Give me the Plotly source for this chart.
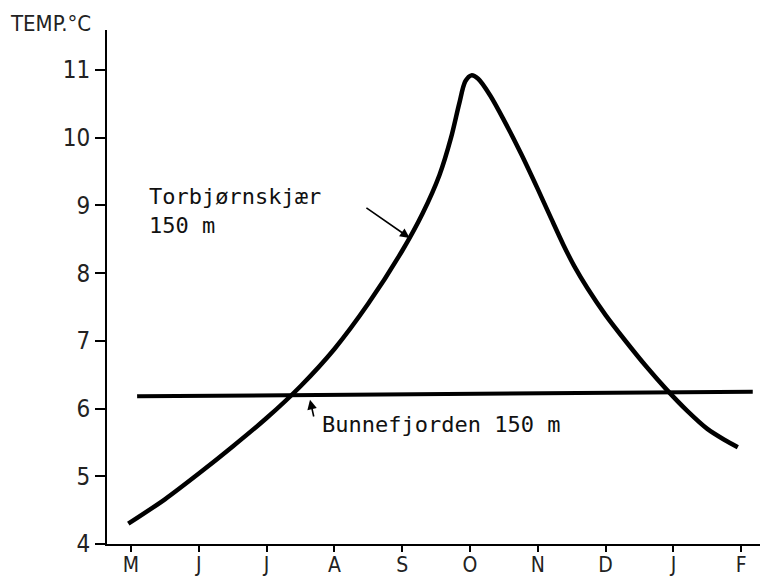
import plotly.graph_objects as go

# Month tick labels (May .. February), positioned at month index 0..9
months = ["M", "J", "J", "A", "S", "O", "N", "D", "J", "F"]
month_idx = list(range(len(months)))

# Torbjørnskjær 150 m (x in month index, y in °C)
torb_x = [-0.04, 0.5, 1.0, 1.5, 2.0, 2.5, 3.0, 3.5, 4.0, 4.3, 4.55, 4.72, 4.84,
          4.93, 5.02, 5.12, 5.3, 5.5, 5.75, 6.0, 6.2, 6.376, 6.55, 6.73, 7.0,
          7.3, 7.6, 7.9, 8.2, 8.5, 8.75, 8.95]
torb_y = [4.30, 4.66, 5.04, 5.44, 5.86, 6.33, 6.88, 7.55, 8.33, 8.88, 9.45, 10.0,
          10.5, 10.83, 10.92, 10.87, 10.62, 10.26, 9.77, 9.24, 8.80, 8.42, 8.08,
          7.78, 7.38, 6.99, 6.62, 6.28, 5.97, 5.70, 5.54, 5.43]

# Bunnefjorden 150 m
bunne_x = [0.09, 9.17]
bunne_y = [6.18, 6.25]

y_ticks = [4, 5, 6, 7, 8, 9, 10, 11]

tick_family = "Liberation Sans Narrow, DejaVu Sans Condensed, sans-serif"
ann_font = dict(family="DejaVu Sans Mono, monospace", size=22, color="#111")

fig = go.Figure()
fig.add_trace(go.Scatter(x=torb_x, y=torb_y, mode="lines",
                         line=dict(color="black", width=4.5, shape="spline", smoothing=0.8),
                         showlegend=False, hoverinfo="skip"))
fig.add_trace(go.Scatter(x=bunne_x, y=bunne_y, mode="lines",
                         line=dict(color="black", width=4),
                         showlegend=False, hoverinfo="skip"))

fig.add_annotation(x=0.24, y=9.35, xref="x", yref="y", xanchor="left", yanchor="top",
                   text="Torbjørnskjær<br>150 m", showarrow=False, align="left",
                   font=ann_font)
fig.add_annotation(x=4.11, y=8.52, ax=3.45, ay=8.98, xref="x", yref="y",
                   axref="x", ayref="y", text="", showarrow=True,
                   arrowhead=2, arrowsize=1.2, arrowwidth=1.6, arrowcolor="black")
fig.add_annotation(x=2.79, y=5.76, xref="x", yref="y", xanchor="left", yanchor="middle",
                   text="Bunnefjorden 150 m", showarrow=False, font=ann_font)
fig.add_annotation(x=2.64, y=6.13, ax=2.70, ay=5.86, xref="x", yref="y",
                   axref="x", ayref="y", text="", showarrow=True,
                   arrowhead=2, arrowsize=1.2, arrowwidth=1.6, arrowcolor="black")
fig.add_annotation(x=-0.1498, y=1.04, xref="paper", yref="paper", xanchor="left",
                   yanchor="top", text="TEMP.°C", showarrow=False,
                   font=dict(family=tick_family, size=22, color="#222"))

# The page body has an 8px margin, so the figure is 8px smaller than the window
fig.update_layout(
    width=760, height=570,
    margin=dict(l=99, r=0, t=22, b=34, autoexpand=False),
    paper_bgcolor="white", plot_bgcolor="white",
    xaxis=dict(range=[-0.354, 9.395], tickmode="array", tickvals=month_idx,
               ticktext=months, showgrid=False, zeroline=False, automargin=False,
               showline=True, linecolor="black", linewidth=2,
               ticks="outside", ticklen=6, tickwidth=2, tickcolor="black",
               ticklabelstandoff=-5,
               tickfont=dict(family=tick_family, size=21, color="#222")),
    yaxis=dict(range=[4, 11.59], tickmode="array", tickvals=y_ticks,
               showgrid=False, zeroline=False, automargin=False,
               showline=True, linecolor="black", linewidth=2,
               ticks="outside", ticklen=10, tickwidth=2, tickcolor="black",
               tickfont=dict(family=tick_family, size=24, color="#222")),
)

fig.write_html("out.html")
